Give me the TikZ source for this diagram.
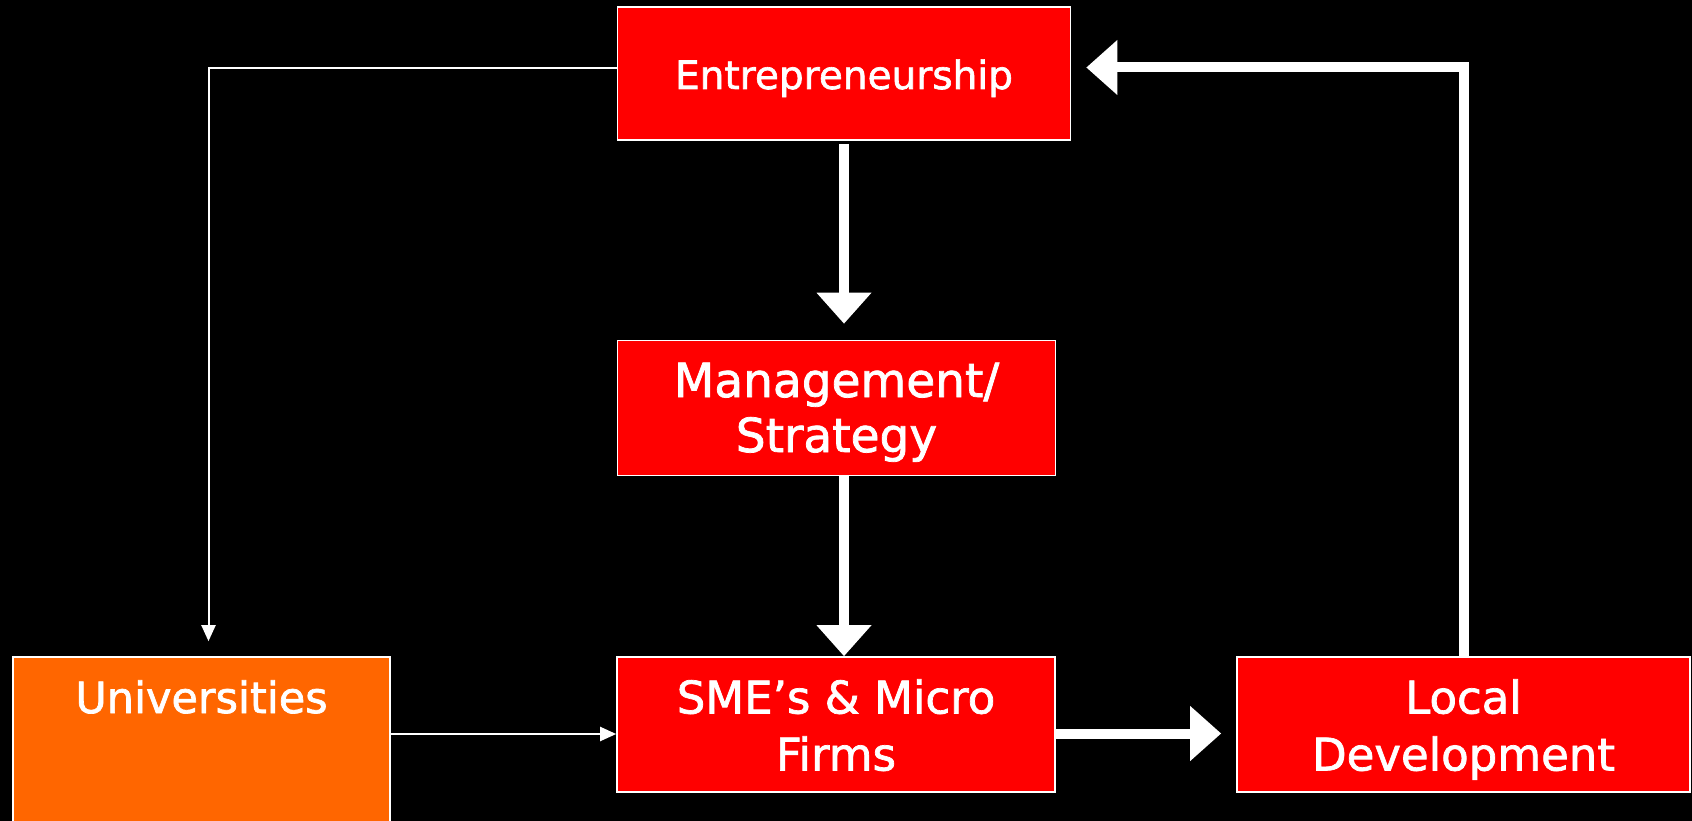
\documentclass[tikz,border=0pt]{standalone}
\usepackage{fontspec}
\setmainfont{DejaVu Sans}[FakeBold=1.6,AutoFakeBold=1.6]
\usetikzlibrary{arrows.meta}
\definecolor{boxred}{HTML}{FF0000}
\definecolor{boxorange}{HTML}{FF6600}
\newcommand\firstln{\rule[-17pt]{0pt}{69pt}}
\newcommand\nextln{\rule[-17pt]{0pt}{57pt}}
\tikzset{
  box/.style={draw=white, line width=1.6pt, rectangle, text=white, align=center, inner sep=0pt},
  thickarrow/.style={draw=white, line width=10pt, -{Triangle[width=53pt,length=31pt]}},
  thinarrow/.style={draw=white, line width=2pt, -{Triangle[width=14pt,length=16pt]}},
  bigtext/.style={font=\fontsize{45}{57}\selectfont\bfseries}
}
\begin{document}
\begin{tikzpicture}[x=1pt,y=-1pt]
\fill[black] (0,0) rectangle (1692,821);
\useasboundingbox (0,0) rectangle (1692,821);
\begin{scope}
\clip (0,0) rectangle (1692,821);
\node[box, fill=boxred, minimum width=453pt, minimum height=133pt, font=\fontsize{39}{47}\selectfont\bfseries] (ent) at (844,73.5) {\rule[-14pt]{0pt}{59pt}Entrepreneurship};
\node[box, fill=boxred, minimum width=438pt, minimum height=135pt, font=\fontsize{47}{55}\selectfont\bfseries] (man) at (836.5,408) {\rule[-16.5pt]{0pt}{66pt}Management/\\\rule[-16.5pt]{0pt}{55pt}Strategy};
\node[box, fill=boxred, minimum width=438pt, minimum height=135pt, bigtext] (sme) at (836,724.5) {\firstln SME’s \& Micro\\\nextln Firms};
\node[box, fill=boxred, minimum width=453pt, minimum height=135pt, bigtext] (loc) at (1463.5,724.5) {\firstln Local\\\nextln Development};
\node[box, fill=boxorange, minimum width=377pt, minimum height=170pt] (uni) at (201.5,742) {};
\node[text=white, anchor=base, font=\fontsize{43}{52}\selectfont\bfseries] (unitext) at (201.5,713) {Universities};
\end{scope}
% thick arrows
\draw[thickarrow, shorten <=3pt, shorten >=16pt] (ent.south -| 844,0) -- (man.north -| 844,0);
\draw[thickarrow] (man.south -| 844,0) -- (sme.north -| 844,0);
\draw[thickarrow, shorten >=15pt] ([yshift=-9pt]sme.east) -- ([yshift=-9pt]sme.east -| loc.west);
\draw[thickarrow, line join=miter, shorten >=15pt] (loc.north) |- ([yshift=6pt]ent.east);
% thin arrows
\coordinate (ua) at ([yshift=8pt]uni.east);
\draw[thinarrow] (ua) -- (ua -| sme.west);
\draw[thinarrow, shorten >=15pt] ([yshift=5.5pt]ent.west) -| ([xshift=7pt]uni.north);
\end{tikzpicture}
\end{document}
